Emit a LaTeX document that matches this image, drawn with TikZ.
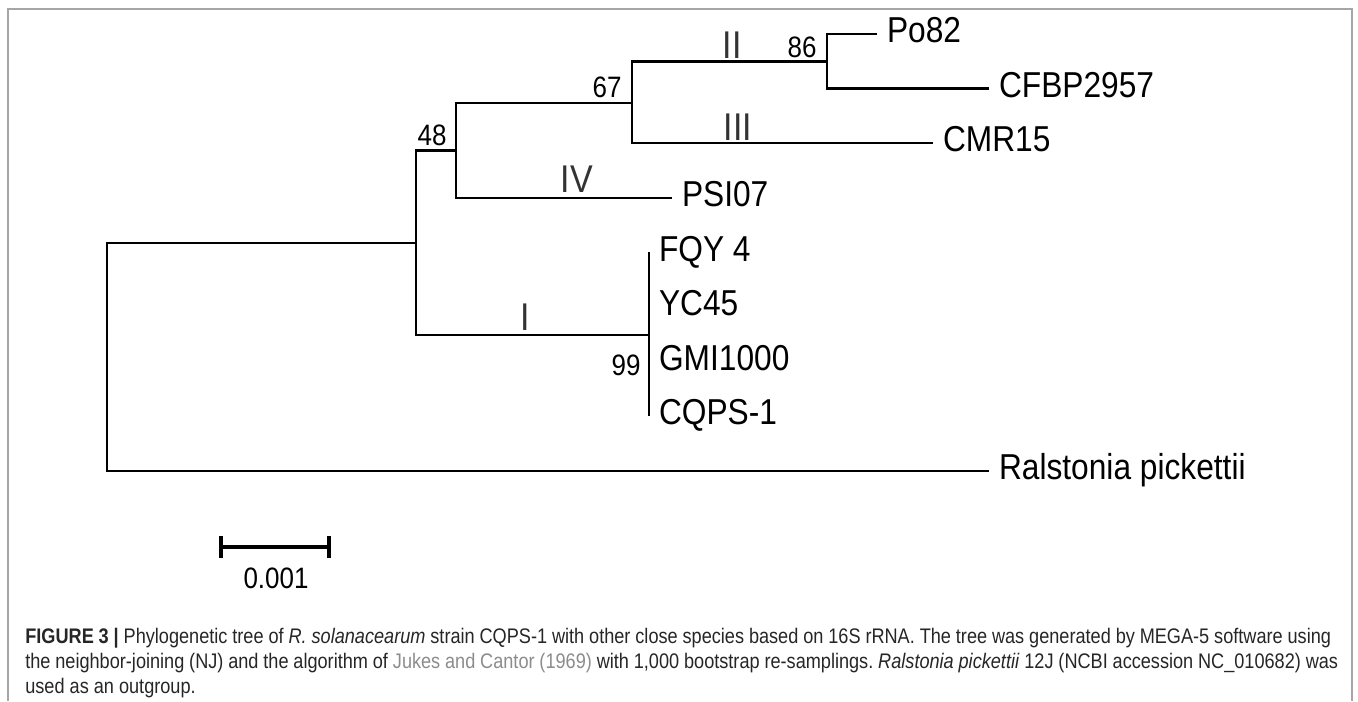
\documentclass[tikz,border=0pt]{standalone}
\usepackage{fontspec}
\setmainfont{Liberation Sans}
\newfontfamily\capfont[FakeStretch=0.86]{Liberation Sans}
\newfontfamily\treefont[FakeStretch=0.88]{Liberation Sans}
\definecolor{linkgray}{HTML}{8C8C8C}
\frenchspacing
\begin{document}
\begin{tikzpicture}[x=0.02cm,y=-0.02cm,
  branch/.style={line width=1.3pt},
  leaf/.style={anchor=west,font=\treefont\fontsize{20.5}{21}\selectfont,text height=1em,text depth=0pt,inner sep=5.5pt},
  boot/.style={font=\treefont\fontsize{16.8}{17}\selectfont,inner sep=0pt},
  clade/.style={anchor=base,font=\treefont\fontsize{22}{23}\selectfont,inner sep=0pt,black!80},
  capline/.style={anchor=base west,inner sep=0pt,font=\capfont\fontsize{12}{13}\selectfont,black!85}]
  \useasboundingbox (0,0) rectangle (1358,701);
  % frame
  \draw[gray!70,line width=0.8pt] (8,701) -- (8,9) -- (1352,9) -- (1352,701);
  % leaves
  \foreach \nm/\xe/\k/\txt in {po82/877/0/Po82,cfbp/989/1/CFBP2957,cmr/933/2/CMR15,
      psi/672/3/PSI07,fqy/649/4/FQY 4,yc/649/5/YC45,gmi/649/6/GMI1000,
      cqps/649/7/CQPS-1,ral/989/8/Ralstonia pickettii}
    \node[leaf] (\nm) at (\xe,34+54.6*\k) {\txt};
  % inner nodes
  \coordinate (n86) at (827,61.5);
  \coordinate (n67) at (632,103);
  \coordinate (n48) at (456,150.5);
  \coordinate (nin) at (416,243);
  \coordinate (nI) at (649,335);
  \coordinate (root) at (107,357);
  \draw[branch] (po82.west) -| (n86) |- (cfbp.west);
  \draw[branch] (n86) -| (n67) |- (cmr.west);
  \draw[branch] (n67) -| (n48) |- (psi.west);
  \draw[branch] (n48) -| (nin) |- (nI);
  \draw[branch] (nin) -| (root) |- (ral.west);
  \draw[branch] (fqy.west) -- (cqps.west);
  % bootstrap values and groups
  \node[boot] (b86) at (802,47) {86};
  \node[boot] (b67) at (607,87) {67};
  \node[boot] (b48) at (432,135) {48};
  \node[boot] (b99) at (626,365) {99};
  \node[clade] (cII) at (732,58) {II};
  \node[clade] (cIII) at (738,140) {III};
  \node[clade] (cIV) at (577,192) {IV};
  \node[clade] (cI) at (525,330) {I};
  % scale bar
  \coordinate (sa) at (221,547);
  \coordinate (sb) at (329,547);
  \draw[line width=2.3pt] (sa) -- (sb) (sa) ++(0,-11) -- ++(0,22) (sb) ++(0,-11) -- ++(0,22);
  \node[boot] (scl) at (276,578) {0.001};
  % caption
  \node[capline] (cap1) at (25,643) {\makebox[26.12cm][s]{\textbf{FIGURE 3 |} Phylogenetic tree of \textit{R. solanacearum} strain CQPS-1 with other close species based on 16S rRNA. The tree was generated by MEGA-5 software using}};
  \node[capline] (cap2) at (25,668) {\makebox[26.26cm][s]{the neighbor-joining (NJ) and the algorithm of \textcolor{linkgray}{Jukes and Cantor (1969)} with 1,000 bootstrap re-samplings. \textit{Ralstonia pickettii} 12J (NCBI accession NC\_010682) was}};
  \node[capline] (cap3) at (25,693) {used as an outgroup.};
\end{tikzpicture}
\end{document}
